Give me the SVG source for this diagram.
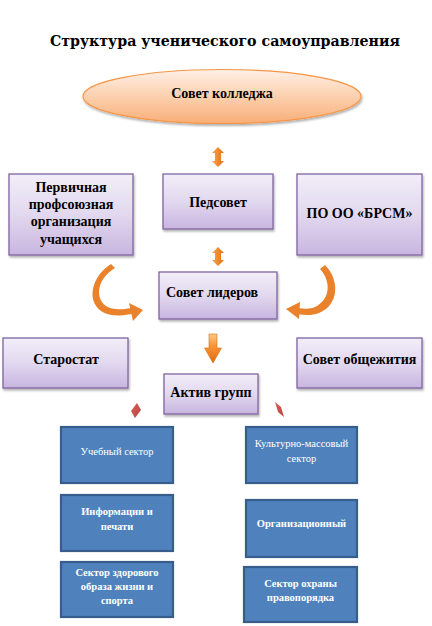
<svg xmlns="http://www.w3.org/2000/svg" width="432" height="626" viewBox="0 0 432 626">
<defs>
<linearGradient id="gEll" x1="0" y1="0" x2="0" y2="1">
<stop offset="0" stop-color="#fef0e6"/><stop offset="0.5" stop-color="#fcd0ae"/><stop offset="1" stop-color="#f8ae78"/>
</linearGradient>
<linearGradient id="gPur" x1="0" y1="0" x2="0" y2="1">
<stop offset="0" stop-color="#f2eef8"/><stop offset="0.5" stop-color="#e2d8ef"/><stop offset="1" stop-color="#c8b5e0"/>
</linearGradient>
<linearGradient id="gOr" x1="0" y1="0" x2="1" y2="0">
<stop offset="0" stop-color="#f8a04f"/><stop offset="0.5" stop-color="#f28a2b"/><stop offset="1" stop-color="#e06d10"/>
</linearGradient>
<linearGradient id="gDown" x1="0" y1="0" x2="0" y2="1">
<stop offset="0" stop-color="#fbc98a"/><stop offset="0.4" stop-color="#f7963c"/><stop offset="1" stop-color="#e26a0c"/>
</linearGradient>
<linearGradient id="gRed" x1="0" y1="0" x2="1" y2="1">
<stop offset="0" stop-color="#d9605c"/><stop offset="1" stop-color="#b8423f"/>
</linearGradient>
<filter id="sh" x="-10%" y="-10%" width="125%" height="130%">
<feDropShadow dx="1" dy="2" stdDeviation="1.2" flood-color="#000" flood-opacity="0.3"/>
</filter>
<style>
.pur{fill:url(#gPur);stroke:#8064a2;stroke-width:1.3;filter:url(#sh)}
.blu{fill:#4f81bd;stroke:#385d8a;stroke-width:2.2}
.t{font-family:"Liberation Serif","Times New Roman",serif;font-weight:bold;font-size:14px;fill:#000;text-anchor:middle}
.ts{text-anchor:start}
.w{font-family:"Liberation Serif","Times New Roman",serif;font-size:10.5px;fill:#fff;text-anchor:middle}
.wb{font-weight:bold}
.or{fill:url(#gOr)}
.cur{fill:#e9822a}
.red{fill:url(#gRed)}
</style>
</defs>
<rect width="432" height="626" fill="#fff"/>
<text x="225" y="46" font-family="'DejaVu Serif',serif" font-weight="bold" font-size="14.5" textLength="350" lengthAdjust="spacingAndGlyphs" text-anchor="middle" fill="#000">Структура ученического самоуправления</text>

<g id="connectors">
<polygon class="or" points="218,147 224,153 221,153 221,161 224,161 218,167 212,161 215,161 215,153 212,153"/>
<polygon class="or" points="218,247 224,253 221,253 221,260 224,260 218,266 212,260 215,260 215,253 212,253"/>
<path class="cur" d="M111,264 C92,276 86,300 101,311 C110,317 121,316 132,314 L131,308 C121,310 112,310 106,306 C94,297 98,278 115,268 Z"/>
<polygon class="cur" points="129,303 143,310 133,321"/>
<path class="cur" d="M325,265 C340,280 339,305 319,313 C311,316 304,315 297,314 L298,308 C305,309 311,309 315,307 C331,299 331,281 320,269 Z"/>
<polygon class="cur" points="300,302 286,309 299,319"/>
<polygon fill="url(#gDown)" stroke="#d9700f" stroke-width="0.6" points="209,334 217,334 217,348 221.5,348 213,363 204.5,348 209,348"/>
<polygon class="red" points="131,411 137,403 141,410 135,418"/>
<polygon class="red" points="275,402 281,407 284,417 278,412"/>
</g>

<g id="sovet-kolledzha">
<ellipse cx="222" cy="96.5" rx="139" ry="27" fill="url(#gEll)" stroke="#f79646" stroke-width="1.2" filter="url(#sh)"/>
<text class="t" x="222" y="98">Совет колледжа</text>
</g>

<g id="pervichnaya">
<rect class="pur" x="9" y="174" width="124" height="81"/>
<text class="t" x="71" y="192">Первичная</text>
<text class="t" x="71" y="209">профсоюзная</text>
<text class="t" x="71" y="226">организация</text>
<text class="t" x="71" y="244">учащихся</text>
</g>

<g id="pedsovet">
<rect class="pur" x="163" y="174" width="110" height="55"/>
<text class="t" x="218" y="207">Педсовет</text>
</g>

<g id="brsm">
<rect class="pur" x="297" y="174" width="125" height="81"/>
<text class="t" x="359.5" y="218">ПО ОО «БРСМ»</text>
</g>

<g id="sovet-liderov">
<rect class="pur" x="159" y="272" width="118" height="47"/>
<text class="t ts" x="166" y="297">Совет лидеров</text>
</g>

<g id="starostat">
<rect class="pur" x="3" y="338" width="125" height="50"/>
<text class="t" x="66" y="364">Старостат</text>
</g>

<g id="sovet-obshchezhitiya">
<rect class="pur" x="297" y="338" width="125" height="50"/>
<text class="t" x="359.5" y="364">Совет общежития</text>
</g>

<g id="aktiv-grupp">
<rect class="pur" x="164" y="374" width="94" height="40"/>
<text class="t" x="211" y="397">Актив групп</text>
</g>

<g id="uchebny">
<rect class="blu" x="61" y="427" width="112" height="56"/>
<text class="w" x="117" y="455">Учебный сектор</text>
</g>

<g id="kulturno">
<rect class="blu" x="246" y="427" width="111" height="56"/>
<text class="w" x="301.5" y="447">Культурно-массовый</text>
<text class="w" x="301.5" y="462">сектор</text>
</g>

<g id="informacii">
<rect class="blu" x="61" y="495" width="112" height="56"/>
<text class="w wb" x="117" y="515">Информации и</text>
<text class="w wb" x="117" y="530">печати</text>
</g>

<g id="organizacionny">
<rect class="blu" x="246" y="500" width="111" height="57"/>
<text class="w wb" x="301.5" y="527">Организационный</text>
</g>

<g id="zdorovy">
<rect class="blu" x="61" y="562" width="112" height="55"/>
<text class="w wb" x="117" y="576">Сектор здорового</text>
<text class="w wb" x="117" y="590">образа жизни и</text>
<text class="w wb" x="117" y="604">спорта</text>
</g>

<g id="pravoporyadok">
<rect class="blu" x="244" y="567" width="113" height="55"/>
<text class="w wb" x="300.5" y="587">Сектор  охраны</text>
<text class="w wb" x="300.5" y="601">правопорядка</text>
</g>
</svg>
